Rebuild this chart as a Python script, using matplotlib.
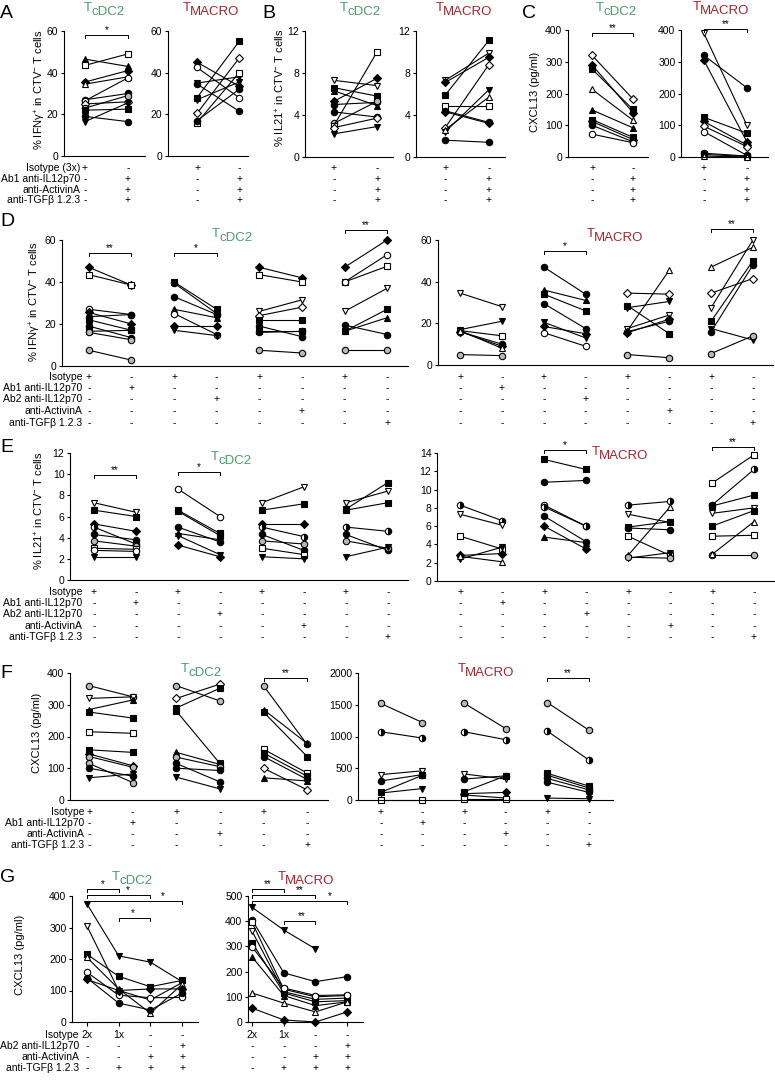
import numpy as np
import matplotlib
matplotlib.use('Agg')
import matplotlib.pyplot as plt
from matplotlib import transforms

plt.rcParams['font.family'] = ['Liberation Sans', 'DejaVu Sans']
plt.rcParams['mathtext.fontset'] = 'custom'
plt.rcParams['mathtext.rm'] = 'Liberation Sans'
plt.rcParams['mathtext.it'] = 'Liberation Sans:italic'
plt.rcParams['mathtext.bf'] = 'Liberation Sans:bold'

# ---------------- data ----------------
# A: % IFNg+ in CTV- T cells, isotype vs triple blockade
A_cdc2_pre = [46.5, 43.5, 35.5, 34.5, 27, 26.5, 25, 23, 22, 19, 16.5]
A_cdc2_post = [43, 49, 41, 38, 30, 37.5, 26, 29, 22.5, 16.5, 25.5]
A_macro_pre = [45, 42.5, 35, 34.5, 28, 20.5, 16, 17, 27]
A_macro_post = [33.5, 28, 38, 21.5, 55, 47, 40, 32, 35.5]

# B: % IL21+
B_cdc2_pre = [7.3, 6.6, 6.3, 5.3, 5.0, 4.3, 3.2, 3.0, 2.8, 2.2]
B_cdc2_post = [6.8, 5.8, 4.9, 7.5, 5.2, 3.8, 5.3, 10.0, 3.7, 2.9]
B_macro_pre = [7.3, 7.1, 5.9, 4.9, 4.4, 4.3, 2.8, 2.4, 2.6, 1.6]
B_macro_post = [9.9, 9.5, 11.1, 4.9, 3.3, 3.2, 8.8, 6.4, 5.7, 1.4]

# C: CXCL13 pg/ml
C_cdc2_pre = [320, 290, 277, 213, 148, 118, 112, 100, 72]
C_cdc2_post = [183, 140, 150, 116, 92, 62, 55, 48, 45]
C_macro_pre = [390, 320, 305, 125, 112, 97, 80, 12, 8, 3]
C_macro_post = [100, 218, 48, 75, 38, 33, 5, 3, 2, 0]

# D: % IFNg+, single blockades (Ab1, Ab2, ActivinA, TGFb)
D_cdc2_pre = [[47, 43.5, 27, 25.5, 23.5, 22, 19, 16.5, 16, 7.5],
              [40, 39.5, 33, 27, 25, 19, 17],
              [47, 43.5, 26, 24, 22, 19, 16.5, 16, 7.5],
              [47, 40, 40, 26, 19.5, 16.5, 16.5, 7.5]]
D_cdc2_post = [[38.5, 38.5, 24.5, 20, 24.5, 17, 13.5, 17, 12.5, 2.8],
               [27, 25, 24.5, 23, 15, 19, 14.5],
               [42, 40, 31.5, 28, 22, 14, 16.5, 16.5, 6.2],
               [60, 47.5, 53, 37, 15, 27, 23, 7.5]]
D_macro_pre = [[34.5, 17, 16.5, 16, 16, 16.5, 5],
               [47, 36, 34, 29.5, 20.5, 18.5, 15.5],
               [34.5, 28.5, 27.5, 17.5, 16.5, 16, 15.5, 5],
               [47, 34.5, 27.5, 21, 17.5, 16, 5.5]]
D_macro_post = [[28, 21, 14, 10, 9, 8, 4.5],
                [34, 31, 26, 17.5, 13, 15, 9],
                [34, 15, 30.5, 24, 45.5, 21, 22, 3.5],
                [56.5, 41.5, 60, 50, 12, 48, 14]]

# E: % IL21+, single blockades
E_cdc2_pre = [[7.3, 6.6, 5.3, 5.0, 4.3, 3.7, 3.0, 2.8, 2.2],
              [8.6, 6.6, 6.5, 5.0, 4.4, 4.2, 3.3],
              [7.3, 6.6, 5.3, 5.0, 4.3, 3.7, 3.0, 2.2],
              [7.3, 6.7, 6.6, 5.0, 4.3, 3.7, 2.2]]
E_cdc2_post = [[6.4, 6.0, 4.6, 3.4, 3.8, 3.2, 2.9, 2.7, 2.2],
               [6.0, 4.4, 4.2, 3.6, 3.8, 2.4, 2.2],
               [8.8, 7.2, 5.3, 4.1, 2.8, 3.4, 2.4, 2.0],
               [8.4, 9.2, 7.3, 4.6, 2.8, 3.0, 3.1]]
E_macro_pre = [[8.3, 7.3, 4.9, 2.8, 2.4, 2.7],
               [13.3, 10.8, 8.3, 8.1, 7.1, 6.0, 4.8],
               [8.3, 7.3, 5.9, 5.8, 4.9, 2.8, 2.5, 2.6],
               [10.7, 8.3, 8.2, 7.4, 6.0, 4.9, 2.8, 2.9]]
E_macro_post = [[6.6, 6.1, 3.5, 3.0, 3.7, 2.1],
                [12.2, 11.0, 6.0, 6.0, 4.3, 3.5, 4.2],
                [8.7, 6.4, 6.5, 5.6, 2.8, 8.1, 3.1, 2.5],
                [13.8, 12.2, 9.4, 8.0, 7.7, 5.0, 2.8, 6.5]]

# F: CXCL13, single blockades (Ab1, ActivinA, TGFb)
F_cdc2_pre = [[360, 320, 285, 277, 215, 158, 145, 137, 115, 100, 70],
              [360, 320, 290, 280, 150, 135, 115, 100, 72],
              [360, 285, 277, 160, 148, 137, 100, 70]]
F_cdc2_post = [[325, 325, 315, 258, 210, 150, 108, 103, 55, 75, 82],
               [312, 365, 352, 115, 112, 105, 57, 93, 35],
               [175, 178, 137, 85, 75, 65, 32, 60]]
F_macro_pre = [[1520, 1075, 400, 300, 120, 110, 5],
               [1525, 1075, 410, 330, 130, 100, 80, 10],
               [1535, 1085, 420, 390, 340, 280, 30]]
F_macro_post = [[1220, 975, 460, 400, 390, 180, 5],
                [1125, 950, 330, 380, 380, 120, 30, 10],
                [1100, 630, 220, 190, 160, 120, 20]]

# G: CXCL13 over four conditions
G_cdc2 = [[375, 210, 190, 128],
          [305, 100, 70, 125],
          [215, 145, 112, 132],
          [205, 105, 28, 120],
          [158, 85, 77, 78],
          [140, 60, 38, 92],
          [135, 100, 105, 105]]
G_macro = [[455, 365, 290, np.nan],
           [405, 195, 160, 180],
           [395, 130, 100, 105],
           [360, 120, 90, 95],
           [315, 115, 80, 85],
           [298, 135, 105, 108],
           [258, 105, 65, 80],
           [115, 75, 40, 80],
           [55, 8, 0, 40]]

# treatment tables
rows_A = ['Isotype (3x)', 'Ab1 anti-IL12p70', 'anti-ActivinA', 'anti-TGFβ 1.2.3']
cells_A = [['+', '-'], ['-', '+'], ['-', '+'], ['-', '+']]
rows_D = ['Isotype', 'Ab1 anti-IL12p70', 'Ab2 anti-IL12p70', 'anti-ActivinA', 'anti-TGFβ 1.2.3']
cells_D = [['+', '-', '+', '-', '+', '-', '+', '-'],
           ['-', '+', '-', '-', '-', '-', '-', '-'],
           ['-', '-', '-', '+', '-', '-', '-', '-'],
           ['-', '-', '-', '-', '-', '+', '-', '-'],
           ['-', '-', '-', '-', '-', '-', '-', '+']]
rows_F = ['Isotype', 'Ab1 anti-IL12p70', 'anti-ActivinA', 'anti-TGFβ 1.2.3']
cells_F = [['+', '-', '+', '-', '+', '-'],
           ['-', '+', '-', '-', '-', '-'],
           ['-', '-', '-', '+', '-', '-'],
           ['-', '-', '-', '-', '-', '+']]
rows_G = ['Isotype', 'Ab2 anti-IL12p70', 'anti-ActivinA', 'anti-TGFβ 1.2.3']
cells_G = [['2x', '1x', '-', '-'], ['-', '-', '-', '+'], ['-', '-', '+', '+'], ['-', '+', '+', '+']]

# marker codes per donor line (shape + fill: k filled, w open, g grey, h half)
mk_A_cdc2 = ['^k', 'sw', 'Dk', '^w', 'ok', 'ow', 'Dw', 'og', 'sk', 'ok', 'vk']
mk_A_macro = ['Dk', 'ow', 'vk', 'ok', 'sk', 'Dw', 'sw', 'ok', 'vk']
mk_B_cdc2 = ['vw', 'sk', '^k', 'Dk', 'ok', 'ok', 'og', 'sw', 'Dw', 'vk']
mk_B_macro = ['vw', 'Dk', 'sk', 'sw', 'ok', 'Dk', 'Dw', 'vk', '^w', 'ok']
mk_C_cdc2 = ['Dw', 'Dk', 'sk', '^w', '^k', 'sk', 'Dk', 'ok', 'ow']
mk_C_macro = ['vw', 'ok', 'Dk', 'sk', 'Dk', 'Dw', 'ow', 'ok', 'sk', '^w']
mk_D_cdc2 = [['Dk', 'sw', 'ow', 'Dk', 'ok', 'sk', 'ok', 'sk', 'og', 'og'],
             ['sk', 'ok', 'ok', '^k', 'ow', 'Dk', 'vk'],
             ['Dk', 'sw', 'vw', 'Dw', 'sk', 'ok', 'sk', 'ok', 'og'],
             ['Dk', 'sw', 'ow', 'vw', 'ok', 'sk', '^k', 'og']]
mk_D_macro = [['vw', 'vk', 'sw', 'ok', 'Dk', '^w', 'og'],
              ['ok', '^k', 'sk', 'ok', 'vk', 'Dk', 'ow'],
              ['Dw', 'sk', 'vk', 'vw', '^w', 'ok', 'Dk', 'og'],
              ['^w', 'Dw', 'vw', 'sk', 'vk', 'ok', 'og']]
mk_E_cdc2 = [['vw', 'sk', 'Dk', 'oh', 'ok', 'og', 'sw', 'ow', 'vk'],
             ['ow', 'sk', 'sk', 'ok', '^k', 'vk', 'Dk'],
             ['vw', 'sk', 'Dk', 'oh', 'ok', 'og', 'sw', 'vk'],
             ['vw', 'sk', 'sk', 'oh', 'ok', 'og', 'vk']]
mk_E_macro = [['oh', 'vw', 'sw', 'Dk', 'vk', '^w'],
              ['sk', 'ok', 'ow', 'oh', 'ok', 'Dk', '^k'],
              ['oh', 'vw', 'sk', 'ok', 'sw', '^w', 'vk', 'og'],
              ['sw', 'oh', 'sk', 'vw', 'sk', 'sw', 'og', '^w']]
mk_F_cdc2 = [['og', 'vw', '^k', 'sk', 'sw', 'sk', 'Dk', 'og', 'og', 'ok', 'vk'],
             ['og', 'Dw', 'sk', 'sk', '^k', 'og', 'ok', 'ok', 'vk'],
             ['og', '^k', 'sk', 'sw', 'sk', 'ok', 'Dw', '^k']]
mk_F_macro = [['og', 'oh', 'vw', 'ok', 'sk', 'vk', 'sw'],
              ['og', 'oh', 'vw', 'ok', 'sk', 'Dk', 'ok', 'sw'],
              ['og', 'oh', 'sk', 'sk', 'ok', 'ok', 'vk']]
mk_G_cdc2 = ['vk', 'vw', 'sk', '^w', 'ow', 'ok', 'Dk']
mk_G_macro = ['vk', 'ok', 'sw', 'vw', 'sk', 'ow', '^k', '^w', 'Dk']

# ---------------- drawing ----------------
W, H = 775, 1080
GREEN = '#4f9a6e'
RED = '#a3262e'
FS = 7.5

fig = plt.figure(figsize=(W / 100, H / 100), dpi=100)


def make_ax(x0, x1, ytop, ybot, xlim, ymax, yticks):
    ax = fig.add_axes([x0 / W, 1 - ybot / H, (x1 - x0) / W, (ybot - ytop) / H])
    ax.set_xlim(*xlim)
    ax.set_ylim(0, ymax)
    ax.spines['top'].set_visible(False)
    ax.spines['right'].set_visible(False)
    ax.spines['left'].set_linewidth(0.8)
    ax.spines['bottom'].set_linewidth(0.8)
    ax.set_xticks([])
    ax.set_yticks(yticks)
    ax.tick_params(axis='y', length=2.5, width=0.8, labelsize=FS, pad=1.5)
    ax.patch.set_alpha(0)
    ax.hpx = ybot - ytop
    return ax


def mstyle(code):
    m, f = code[0], code[1]
    kw = dict(marker=m, markeredgecolor='k', markeredgewidth=0.8,
              markersize=3.6 if m == 'D' else 4.6)
    if f == 'k':
        kw['markerfacecolor'] = 'k'
    elif f == 'w':
        kw['markerfacecolor'] = 'w'
    elif f == 'g':
        kw['markerfacecolor'] = '0.72'
    else:
        kw.update(markerfacecolor='k', fillstyle='right', markerfacecoloralt='w')
    return kw


def pairs(ax, x0, pre, post, codes):
    for b, a, c in zip(pre, post, codes):
        ax.plot([x0, x0 + 1], [b, a], color='k', lw=0.8, clip_on=False, **mstyle(c))


def series(ax, rows, codes):
    xs = np.arange(len(rows[0]))
    for r, c in zip(rows, codes):
        ax.plot(xs, r, color='k', lw=0.8, clip_on=False, **mstyle(c))


def bracket(ax, a, b, y, label, sx=None):
    h = ax.get_ylim()[1] * 3.0 / ax.hpx
    ax.plot([a, a, b, b], [y - h, y, y, y - h], color='k', lw=0.7, clip_on=False)
    ax.text((a + b) / 2 if sx is None else sx, y, label, ha='center', va='bottom',
            fontsize=7, clip_on=False)


def table(ax, row_y, cells, labels=None, label_x=None):
    tr = transforms.blended_transform_factory(ax.transData, fig.transFigure)
    for ry, vals in zip(row_y, cells):
        for i, v in enumerate(vals):
            ax.text(i, 1 - ry / H, v, transform=tr, ha='center', va='center', fontsize=FS)
    if labels is not None:
        for ry, lab in zip(row_y, labels):
            fig.text(label_x / W, 1 - ry / H, lab, ha='right', va='center', fontsize=FS)


def title(xc, y, sub, color, size=9.5):
    t = fig.text(xc / W, 1 - y / H, sub, ha='center', va='top', color=color, fontsize=size)
    a = plt.gca().annotate('T', xy=(0, 1), xycoords=t, xytext=(0, 3),
                           textcoords='offset points', ha='right', va='top',
                           color=color, fontsize=size, annotation_clip=False)
    return t, a


def ylabel(x, yc, text):
    fig.text(x / W, 1 - yc / H, text, rotation=90, ha='center', va='center', fontsize=8)


def letter(x, y, s):
    fig.text(x / W, 1 - y / H, s, ha='left', va='center', fontsize=14)


IFN = r'% IFNγ$^{+}$ in CTV$^{-}$ T cells'
IL21 = r'% IL21$^{+}$ in CTV$^{-}$ T cells'
CX = 'CXCL13 (pg/ml)'

# ----- A -----
rowsy_A = [168, 179, 190, 200]
ax = make_ax(64, 145, 31, 156, (-0.49, 1.4), 60, [0, 20, 40, 60])
pairs(ax, 0, A_cdc2_pre, A_cdc2_post, mk_A_cdc2)
bracket(ax, 0, 1, 58, '*')
table(ax, rowsy_A, cells_A, rows_A, 80)
title(108, 6, 'cDC2', GREEN)
ax = make_ax(168, 248, 31, 156, (-0.69, 1.21), 60, [0, 20, 40, 60])
pairs(ax, 0, A_macro_pre, A_macro_post, mk_A_macro)
table(ax, rowsy_A, cells_A)
title(215, 6, 'MACRO', RED)
ylabel(40, 90, IFN)
letter(0, 13, 'A')

# ----- B -----
ax = make_ax(305, 393, 31, 157, (-0.67, 1.37), 12, [0, 4, 8, 12])
pairs(ax, 0, B_cdc2_pre, B_cdc2_post, mk_B_cdc2)
table(ax, rowsy_A, cells_A)
title(364, 6, 'cDC2', GREEN)
ax = make_ax(416, 505, 31, 157, (-0.67, 1.37), 12, [0, 4, 8, 12])
pairs(ax, 0, B_macro_pre, B_macro_post, mk_B_macro)
table(ax, rowsy_A, cells_A)
title(468, 6, 'MACRO', RED)
ylabel(280, 88, IL21)
letter(262, 13, 'B')

# ----- C -----
ax = make_ax(568, 648, 30, 157, (-0.59, 1.37), 400, [0, 100, 200, 300, 400])
pairs(ax, 0, C_cdc2_pre, C_cdc2_post, mk_C_cdc2)
bracket(ax, 0, 1, 390, '**')
table(ax, rowsy_A, cells_A)
title(620, 6, 'cDC2', GREEN)
ax = make_ax(681, 768, 30, 157, (-0.53, 1.49), 400, [0, 100, 200, 300, 400])
pairs(ax, 0, C_macro_pre, C_macro_post, mk_C_macro)
bracket(ax, 0, 1, 403, '**')
table(ax, rowsy_A, cells_A)
title(725, 5, 'MACRO', RED)
ylabel(535, 92, CX)
letter(522, 13, 'C')

# ----- D -----
rowsy_D = [377, 388, 399, 411, 423]
ax = make_ax(62, 408, 240, 366, (-0.63, 7.49), 60, [0, 20, 40, 60])
for g in range(4):
    pairs(ax, 2 * g, D_cdc2_pre[g], D_cdc2_post[g], mk_D_cdc2[g])
bracket(ax, 0, 1, 53.8, '**')
bracket(ax, 2, 3, 53.8, '*')
bracket(ax, 6, 7, 64.8, '**')
table(ax, rowsy_D, cells_D, rows_D, 82)
title(236, 232, 'cDC2', GREEN)
ax = make_ax(438, 773, 240, 365, (-0.53, 7.48), 60, [0, 20, 40, 60])
for g in range(4):
    pairs(ax, 2 * g, D_macro_pre[g], D_macro_post[g], mk_D_macro[g])
bracket(ax, 2, 3, 54.7, '*')
bracket(ax, 6, 7, 65.3, '**')
table(ax, rowsy_D, cells_D)
title(619, 232, 'MACRO', RED)
ylabel(35, 302, IFN)
letter(0, 222, 'D')

# ----- E -----
rowsy_E = [592, 603, 614, 626, 637]
ax = make_ax(70, 408, 453, 580, (-0.57, 7.48), 12, [0, 2, 4, 6, 8, 10, 12])
for g in range(4):
    pairs(ax, 2 * g, E_cdc2_pre[g], E_cdc2_post[g], mk_E_cdc2[g])
bracket(ax, 0, 1, 9.9, '**')
bracket(ax, 2, 3, 10.2, '*')
table(ax, rowsy_E, cells_D, rows_D, 82)
title(235, 455, 'cDC2', GREEN)
ax = make_ax(437, 775, 453, 581, (-0.55, 7.5), 14, [0, 2, 4, 6, 8, 10, 12, 14])
for g in range(4):
    pairs(ax, 2 * g, E_macro_pre[g], E_macro_post[g], mk_E_macro[g])
bracket(ax, 2, 3, 14.3, '*')
bracket(ax, 6, 7, 14.7, '**')
table(ax, rowsy_E, cells_D)
title(624, 450, 'MACRO', RED)
ylabel(39, 511, IL21)
letter(0, 447, 'E')

# ----- F -----
rowsy_F = [812, 823, 834, 845]
ax = make_ax(70, 328, 673, 800, (-0.44, 5.48), 400, [0, 100, 200, 300, 400])
for g in range(3):
    pairs(ax, 2 * g, F_cdc2_pre[g], F_cdc2_post[g], mk_F_cdc2[g])
bracket(ax, 4, 5, 384, '**')
table(ax, rowsy_F, cells_F, rows_F, 84)
title(205, 667, 'cDC2', GREEN)
ax = make_ax(358, 613, 673, 800, (-0.55, 5.58), 2000, [0, 500, 1000, 1500, 2000])
for g in range(3):
    pairs(ax, 2 * g, F_macro_pre[g], F_macro_post[g], mk_F_macro[g])
bracket(ax, 4, 5, 1921, '**')
table(ax, rowsy_F, cells_F)
title(490, 667, 'MACRO', RED)
ylabel(37, 733, CX)
letter(0, 673, 'F')

# ----- G -----
rowsy_G = [1035, 1046, 1057, 1068]
ax = make_ax(72, 198, 896, 1022, (-0.47, 3.5), 400, [0, 100, 200, 300, 400])
series(ax, G_cdc2, mk_G_cdc2)
ax.set_xticks(range(4), [''] * 4)
ax.tick_params(axis='x', length=3, width=0.8)
bracket(ax, 0, 1, 422, '*', 0.5)
bracket(ax, 0, 2, 403, '*', 1.3)
bracket(ax, 0, 3, 384, '*', 2.4)
bracket(ax, 1, 2, 331, '*', 1.45)
table(ax, rowsy_G, cells_G, rows_G, 79)
title(136, 875, 'cDC2', GREEN)
ax = make_ax(248, 363, 896, 1022, (-0.13, 3.5), 500, [0, 100, 200, 300, 400, 500])
series(ax, G_macro, mk_G_macro)
ax.set_xticks(range(4), [''] * 4)
ax.tick_params(axis='x', length=3, width=0.8)
bracket(ax, 0, 1, 528, '**', 0.5)
bracket(ax, 0, 2, 504, '**', 1.5)
bracket(ax, 0, 3, 480, '*', 2.46)
bracket(ax, 1, 2, 402, '**', 1.57)
table(ax, rowsy_G, cells_G)
title(310, 875, 'MACRO', RED)
ylabel(20, 955, CX)
letter(0, 877, 'G')

fig.savefig('out.png', dpi=100)
